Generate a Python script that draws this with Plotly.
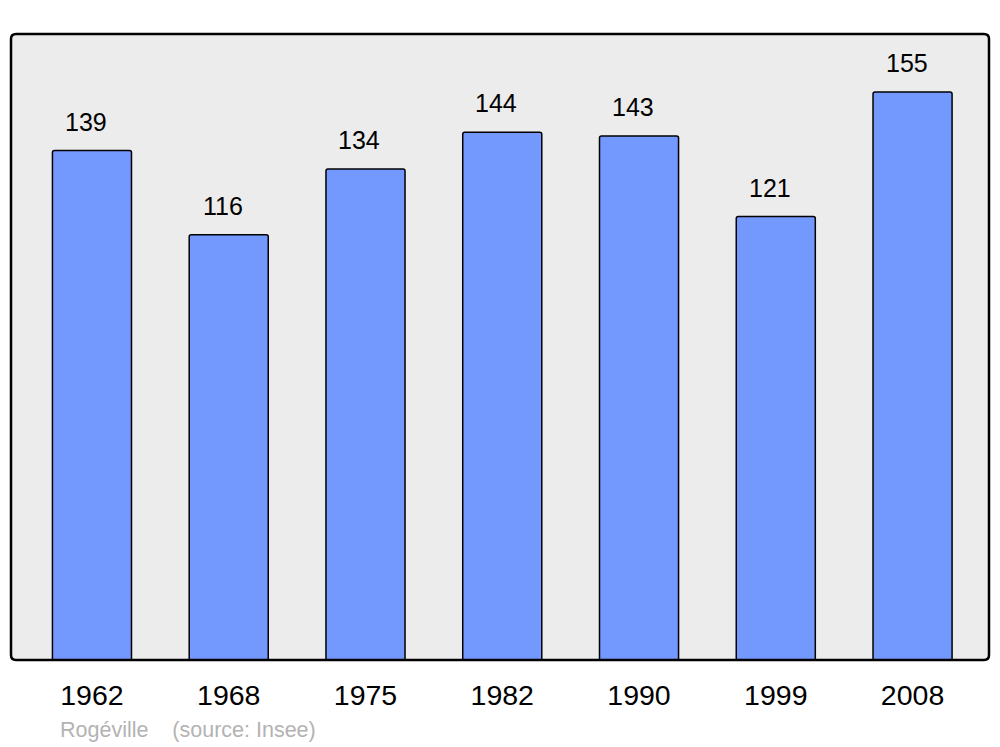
import plotly.graph_objects as go

years = ["1962", "1968", "1975", "1982", "1990", "1999", "2008"]
population = [139, 116, 134, 144, 143, 121, 155]
source_text = "Rogéville    (source: Insee)"

xpos = list(range(len(years)))

fig = go.Figure()
fig.add_trace(go.Bar(
    x=xpos, y=population, width=0.578,
    marker=dict(color="#7399ff", line=dict(color="#000000", width=1.5), cornerradius=2),
    hoverinfo="skip",
))

for x, v in zip(xpos, population):
    fig.add_annotation(x=x, y=v, text=str(v), showarrow=False, yanchor="bottom",
                       yshift=13, xshift=-6,
                       font=dict(size=25, color="#000000", family="Liberation Sans, Arial"))

fig.add_annotation(xref="paper", yref="paper", x=(58 - 11) / 978, y=-(730 - 660) / 626,
                   xanchor="left", yanchor="middle", text=source_text, showarrow=False,
                   font=dict(size=21.5, color="#b3b3b3", family="Liberation Sans, Arial"))

# rounded frame around plot area
rx, ry = 5 / 978, 5 / 626
frame = (f"M {rx},0 L {1-rx},0 Q 1,0 1,{ry} L 1,{1-ry} Q 1,1 {1-rx},1 "
         f"L {rx},1 Q 0,1 0,{1-ry} L 0,{ry} Q 0,0 {rx},0 Z")

fig.update_layout(
    width=1000, height=747,
    margin=dict(l=11, r=11, t=34, b=87),
    paper_bgcolor="#ffffff", plot_bgcolor="#ececec",
    showlegend=False,
    font=dict(family="Liberation Sans, Arial", color="#000000"),
    xaxis=dict(range=[-0.592, 6.559], tickvals=xpos, ticktext=years, showgrid=False,
               zeroline=False, ticks="outside", ticklen=10, tickcolor="rgba(0,0,0,0)",
               tickfont=dict(size=28.5, color="#000000"), fixedrange=True),
    yaxis=dict(range=[0, 170.8], showgrid=False, zeroline=False, showticklabels=False,
               fixedrange=True),
    shapes=[dict(type="path", xref="paper", yref="paper", path=frame,
                 line=dict(color="#000000", width=2.5), layer="above")],
)

fig.write_html("out.html", config={"displayModeBar": False},
               post_script="document.body.style.margin='0';document.body.style.padding='0';")
